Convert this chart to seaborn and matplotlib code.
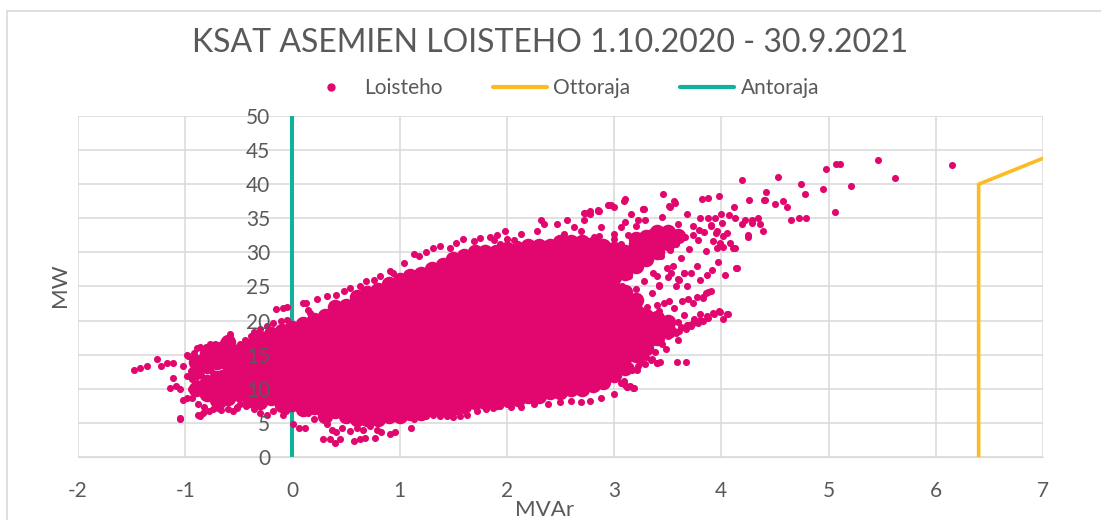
import numpy as np
import pandas as pd
import matplotlib
matplotlib.use("Agg")
import matplotlib.pyplot as plt
import matplotlib.transforms as mtransforms
from matplotlib.lines import Line2D
from matplotlib.patches import Rectangle
import seaborn as sns

# Colours (Excel style)
MAGENTA = '#E2076F'
ORANGE = '#FDBA21'
TEAL = '#10B29B'
GRID = '#D9D9D9'
TEXT = '#595959'

# ---- Loisteho (MVAr, MW) ----
# dense core, one list of MW values per MVAr column
core_mvar = [-0.9, -0.8, -0.7, -0.6,
             -0.5, -0.4, -0.3, -0.2, -0.1, 0.0, 0.1, 0.2, 0.3, 0.4, 0.5, 0.6, 0.7, 0.8, 0.9,
             1.0, 1.1, 1.2, 1.3, 1.4, 1.5, 1.6, 1.7, 1.8, 1.9, 2.0, 2.1, 2.2, 2.3, 2.4, 2.5,
             2.6, 2.7, 2.8, 2.9, 3.0, 3.1, 3.2, 3.3, 3.4, 3.5, 3.6]
core_mw = [
    [10.0, 12.4, 14.0],
    [9.2, 11.0, 13.4, 15.2],
    [8.4, 10.0, 11.6, 14.0, 15.8],
    [8.6, 10.4, 12.0, 13.6, 15.2, 16.8],
    [9.2, 10.8, 12.4, 14.0, 15.6],
    [8.3, 9.9, 11.5, 13.1, 14.7, 16.3],
    [8.0, 9.6, 11.2, 12.8, 14.4, 16.0, 17.4],
    [8.6, 10.2, 11.8, 13.4, 15.0, 16.6, 18.0],
    [7.6, 9.2, 10.8, 12.4, 14.0, 15.6, 17.2, 18.5],
    [7.7, 9.3, 10.9, 12.5, 14.1, 15.7, 17.3, 18.9],
    [7.0, 8.6, 10.2, 11.8, 13.4, 15.0, 16.6, 18.2, 19.5],
    [7.3, 8.9, 10.5, 12.1, 13.7, 15.3, 16.9, 18.5, 20.1],
    [6.0, 7.6, 9.2, 10.8, 12.4, 14.0, 15.6, 17.2, 18.8, 20.6],
    [6.8, 8.4, 10.0, 11.6, 13.2, 14.8, 16.4, 18.0, 19.6, 21.2, 22.0],
    [6.0, 7.6, 9.2, 10.8, 12.4, 14.0, 15.6, 17.2, 18.8, 20.4, 22.2],
    [5.5, 6.9, 8.5, 10.1, 11.7, 13.3, 14.9, 16.5, 18.1, 19.7, 21.3, 22.9, 23.5],
    [5.5, 7.2, 8.8, 10.4, 12.0, 13.6, 15.2, 16.8, 18.4, 20.0, 21.6, 23.2, 24.0],
    [5.6, 6.9, 8.5, 10.1, 11.7, 13.3, 14.9, 16.5, 18.1, 19.7, 21.3, 22.9, 24.5],
    [6.0, 7.6, 9.2, 10.8, 12.4, 14.0, 15.6, 17.2, 18.8, 20.4, 22.0, 23.6, 25.4],
    [6.0, 7.4, 9.0, 10.6, 12.2, 13.8, 15.4, 17.0, 18.6, 20.2, 21.8, 23.4, 25.0, 26.0],
    [6.5, 8.2, 9.8, 11.4, 13.0, 14.6, 16.2, 17.8, 19.4, 21.0, 22.6, 24.2, 25.8, 26.5],
    [6.5, 7.6, 9.2, 10.8, 12.4, 14.0, 15.6, 17.2, 18.8, 20.4, 22.0, 23.6, 25.2, 26.8],
    [7.0, 8.4, 10.0, 11.6, 13.2, 14.8, 16.4, 18.0, 19.6, 21.2, 22.8, 24.4, 26.0, 27.6],
    [7.0, 8.8, 10.4, 12.0, 13.6, 15.2, 16.8, 18.4, 20.0, 21.6, 23.2, 24.8, 26.4, 28.2],
    [7.2, 8.6, 10.2, 11.8, 13.4, 15.0, 16.6, 18.2, 19.8, 21.4, 23.0, 24.6, 26.2, 27.8, 29.0],
    [7.5, 9.0, 10.6, 12.2, 13.8, 15.4, 17.0, 18.6, 20.2, 21.8, 23.4, 25.0, 26.6, 28.2, 29.5],
    [8.0, 9.4, 11.0, 12.6, 14.2, 15.8, 17.4, 19.0, 20.6, 22.2, 23.8, 25.4, 27.0, 28.6, 30.0],
    [8.0, 9.8, 11.4, 13.0, 14.6, 16.2, 17.8, 19.4, 21.0, 22.6, 24.2, 25.8, 27.4, 29.0, 30.0],
    [8.0, 9.4, 11.0, 12.6, 14.2, 15.8, 17.4, 19.0, 20.6, 22.2, 23.8, 25.4, 27.0, 28.6, 30.0],
    [8.5, 9.8, 11.4, 13.0, 14.6, 16.2, 17.8, 19.4, 21.0, 22.6, 24.2, 25.8, 27.4, 29.0, 30.5],
    [8.5, 10.2, 11.8, 13.4, 15.0, 16.6, 18.2, 19.8, 21.4, 23.0, 24.6, 26.2, 27.8, 29.4, 30.5],
    [9.0, 10.4, 12.0, 13.6, 15.2, 16.8, 18.4, 20.0, 21.6, 23.2, 24.8, 26.4, 28.0, 29.6, 31.0],
    [9.0, 10.8, 12.4, 14.0, 15.6, 17.2, 18.8, 20.4, 22.0, 23.6, 25.2, 26.8, 28.4, 30.0, 31.0],
    [9.5, 11.0, 12.6, 14.2, 15.8, 17.4, 19.0, 20.6, 22.2, 23.8, 25.4, 27.0, 28.6, 30.2, 31.0],
    [9.5, 11.2, 12.8, 14.4, 16.0, 17.6, 19.2, 20.8, 22.4, 24.0, 25.6, 27.2, 28.8, 30.4, 31.5],
    [10.0, 11.4, 13.0, 14.6, 16.2, 17.8, 19.4, 21.0, 22.6, 24.2, 25.8, 27.4, 29.0, 30.6, 31.5],
    [10.0, 11.8, 13.4, 15.0, 16.6, 18.2, 19.8, 21.4, 23.0, 24.6, 26.2, 27.8, 29.4, 31.0, 31.5],
    [10.5, 12.0, 13.6, 15.2, 16.8, 18.4, 20.0, 21.6, 23.2, 24.8, 26.4, 28.0, 29.6, 31.2],
    [11.0, 12.4, 14.0, 15.6, 17.2, 18.8, 20.4, 22.0, 23.6, 25.2, 26.8, 28.4, 30.0, 31.0],
    [12.0, 13.6, 15.2, 16.8, 18.4, 20.0, 21.6, 23.2, 24.8, 26.4, 28.0, 29.6, 30.5],
    [13.0, 14.6, 16.2, 17.8, 19.4, 21.0, 22.6, 24.2, 27.0, 28.6, 30.0],
    [15.0, 16.6, 18.2, 19.8, 21.4, 23.0, 28.0, 29.6, 31.2, 32.0],
    [16.0, 17.6, 19.2, 20.6, 29.0, 30.6, 32.2],
    [17.5, 19.0, 20.4, 30.0, 31.6, 33.0],
    [18.5, 19.8, 31.4, 33.0],
    [32.4],
]

# left tail (negative MVAr)
tail_mvar = [-1.48, -1.42, -1.36, -1.26, -1.23, -1.17, -1.11, -1.05, -1.11, -1.09, -1.05, -1.14, -1.02, -0.98, -0.94, -1.02,
             -0.97, -0.92, -0.89, -0.86, -0.81, -0.77, -0.72,
             -0.98, -0.94, -0.89, -0.86, -0.81,
             -0.92, -0.86, -0.80, -0.74,
             -0.88, -0.83, -0.78, -0.74, -0.69, -0.66,
             -0.84, -0.77, -0.70, -0.64, -0.58,
             -0.60, -0.55, -0.52, -0.49,
             -0.67, -0.63, -0.58, -0.55, -0.49, -0.44, -0.39, -0.35, -0.30,
             -0.58,
             -0.67, -0.61, -0.55, -0.49, -0.67, -0.74,
             -0.24, -0.18, -0.11, -0.05,
             -0.15, -0.09, -0.05,
             -0.43, -0.36, -0.30, -0.24, -0.18, -0.09, -0.06,
             -0.95, -0.90, -0.85, -0.80, -0.75, -0.70, -0.65, -0.60, -0.95, -0.90, -0.80, -0.75, -0.70,
             -0.65, -0.60, -0.55, -0.60, -0.55, -0.52, -0.60, -0.70, -0.75, -0.85, -0.88, -0.82,
             -1.05, -0.86, -0.67, -0.52, -0.98, -0.58, -0.36]
tail_mw = [12.7, 13.1, 13.3, 14.4, 13.3, 13.8, 13.8, 5.5, 11.6, 10.4, 9.9, 10.1, 8.4, 8.7, 8.7, 13.3,
           14.8, 15.3, 16.0, 16.2, 16.2, 16.5, 16.5,
           11.9, 11.4, 10.9, 10.4, 9.9,
           13.3, 12.8, 13.1, 12.3,
           6.2, 6.5, 6.7, 7.0, 7.2, 7.7,
           9.2, 9.7, 10.4, 10.9, 9.9,
           7.0, 6.7, 7.2, 7.7,
           14.3, 14.8, 15.3, 16.0, 16.5, 17.2, 17.7, 18.2, 18.7,
           17.6,
           12.3, 13.3, 11.9, 12.8, 10.9, 8.9,
           19.2, 19.7, 19.9, 20.1,
           21.7, 21.9, 22.0,
           7.5, 7.0, 6.5, 6.2, 6.7, 6.2, 6.7,
           12.6, 14.0, 14.6, 15.0, 14.2, 15.6, 16.8, 16.2, 10.0, 9.6, 8.8, 10.2, 8.4,
           9.2, 8.0, 9.0, 11.6, 10.6, 13.8, 13.0, 12.0, 11.2, 12.0, 7.8, 7.4,
           5.7, 6.0, 6.9, 7.4, 15.0, 18.1, 18.4]

# lower and upper edge of the cloud
edge_mvar = [0.01, 0.06, 0.12, 0.15, 0.20, 0.24, 0.32, 0.29, 0.35, 0.40, 0.44, 0.32, 0.37, 0.41, 0.46,
             0.51, 0.54, 0.57, 0.63, 0.68, 0.77, 0.60, 0.66, 0.72, 0.79, 0.83, 0.91, 0.96, 1.11,
             1.13, 1.19, 1.25, 1.31, 1.38, 1.44, 1.50, 1.56, 1.63, 1.72, 1.81, 1.87, 1.94, 2.0,
             2.04, 2.13, 2.25, 2.38, 2.50, 2.60, 2.69, 2.78, 2.88, 3.0,
             3.16, 3.25, 3.31, 3.12, 3.22, 3.31, 3.25, 3.16, 3.09, 3.12,
             0.13, 0.15, 0.23, 0.32, 0.41, 0.48, 0.54, 0.63, 0.69, 0.76, 0.82, 0.91, 0.94, 1.04,
             1.13, 1.18, 1.25, 1.31, 1.38, 1.47, 1.53, 1.59, 1.69, 1.75, 1.84, 1.91, 1.98, 0.10, 0.16,
             2.97, 3.09, 3.27, 3.22, 3.16, 2.78, 2.85, 2.72, 2.63, 2.53, 2.44, 2.35, 2.32, 2.28,
             2.13, 2.07, 2.00, 1.94, 1.88, 2.47, 2.56, 2.69, 2.81, 2.88, 3.0, 3.06,
             2.05, 2.15, 2.25, 2.35, 2.45, 2.5, 2.3, 2.4, 2.55, 2.2, 2.1, 2.6, 2.62, 2.66, 2.7,
             2.72, 2.75, 2.78, 2.8, 2.83, 2.86, 2.88, 2.9, 2.93, 2.95, 2.98]
edge_mw = [4.8, 4.3, 4.3, 6.5, 5.5, 6.7, 6.2, 2.6, 2.6, 2.1, 2.6, 4.8, 4.0, 3.6, 4.3,
           5.5, 3.8, 2.3, 2.6, 2.8, 2.8, 4.3, 4.0, 4.5, 4.0, 3.6, 3.3, 3.6, 4.3,
           5.5, 5.8, 6.0, 6.2, 6.0, 6.0, 5.8, 6.0, 6.2, 6.7, 7.0, 7.2, 7.5, 7.7,
           7.3, 7.3, 7.7, 7.7, 8.0, 8.2, 8.0, 8.2, 8.7, 9.2,
           22.9, 21.5, 22.0, 18.0, 16.1, 17.1, 14.1, 13.1, 11.2, 10.2,
           22.6, 21.6, 23.1, 23.6, 23.8, 24.3, 24.8, 25.0, 25.8, 26.0, 26.5, 27.2, 27.0, 28.4,
           29.7, 29.4, 30.1, 30.6, 30.9, 30.6, 31.4, 31.9, 31.6, 32.1, 32.3, 32.6, 33.1, 22.6, 21.1,
           36.9, 37.6, 36.4, 34.7, 35.7, 35.7, 36.2, 34.7, 33.7, 32.7, 30.8, 34.2, 34.7, 33.2,
           32.7, 31.8, 32.0, 31.3, 31.8, 34.2, 34.7, 33.2, 32.3, 33.7, 32.7, 33.7,
           30.2, 29.8, 29.2, 28.6, 28.4, 29.8, 31.0, 30.6, 31.6, 31.4, 31.2, 27.2, 29.0, 30.6, 26.4,
           28.2, 31.6, 25.6, 27.8, 29.8, 32.4, 24.8, 26.8, 29.0, 31.0, 24.0]

# upper right branch
upper_mvar = [3.0, 3.0, 3.0, 3.0, 3.0, 3.07, 3.08, 3.06, 3.1, 3.14, 3.15, 3.13, 3.2, 3.21, 3.22, 3.2,
              3.28, 3.3, 3.27, 3.29, 3.35, 3.36, 3.37, 3.34, 3.42, 3.44, 3.41, 3.45, 3.5, 3.52, 3.5, 3.55,
              3.58, 3.6, 3.62, 3.66, 3.68, 3.7, 3.74, 3.78, 3.8, 3.84, 3.86, 3.9, 3.92, 3.96, 4.0, 4.02,
              3.46, 3.56, 3.51, 3.10, 2.94, 3.0, 3.28, 2.86, 2.78, 2.73, 4.15, 4.03, 3.97, 4.25, 4.22,
              4.29, 4.34, 3.88, 3.94, 4.01, 3.90, 3.95, 3.99, 4.08, 4.11, 3.79, 3.74, 3.98, 3.88, 3.82,
              4.12, 4.07, 4.26, 4.40, 4.41, 4.42, 4.58, 4.50, 4.61, 4.13, 4.29, 4.36, 4.19, 4.25, 4.39,
              4.05, 4.13, 4.02, 3.96, 4.14, 3.87, 3.91, 3.80, 3.68, 3.65, 3.72, 3.77, 3.60, 3.53, 3.49,
              3.40, 3.42, 3.57, 3.52, 3.27, 2.95, 2.85, 2.77, 2.72]
upper_mw = [26.0, 27.5, 29.0, 30.5, 32.0, 25.0, 28.2, 31.2, 34.4, 26.5, 29.6, 32.5, 24.6, 27.6, 31.0, 33.8,
            25.8, 28.8, 30.2, 34.8, 24.0, 27.0, 31.8, 33.0, 25.2, 29.5, 32.6, 35.2, 26.4, 30.4, 33.6, 28.0,
            31.2, 34.2, 29.2, 32.2, 35.6, 30.5, 33.8, 31.8, 35.0, 33.0, 30.2, 34.0, 31.6, 33.2, 35.6, 32.4,
            38.6, 37.5, 36.8, 37.8, 37.0, 36.7, 36.4, 36.1, 36.0, 35.8, 27.7, 26.7, 28.6, 32.6, 34.8,
            34.3, 35.0, 35.0, 35.0, 34.3, 33.8, 32.8, 31.4, 31.4, 30.6, 33.3, 32.6, 38.3, 38.0, 37.9,
            36.6, 35.5, 37.7, 37.7, 37.7, 38.8, 37.6, 37.1, 36.6, 35.0, 34.7, 34.2, 34.2, 32.3, 33.2,
            32.8, 30.6, 30.8, 30.6, 27.7, 26.7, 27.4, 26.0, 25.0, 27.0, 27.0, 28.0, 26.1, 27.0, 27.7,
            26.5, 25.0, 37.3, 36.7, 36.4, 36.9, 36.1, 35.8, 35.8]

# lower right branch
lower_mvar = [4.06, 4.02, 3.98, 3.92, 3.88, 3.83, 3.78, 3.72, 3.67, 3.61, 3.58, 3.86, 3.90, 3.83,
              3.74, 3.69, 3.63, 3.67, 3.59, 3.40, 3.35, 3.29, 3.22, 3.17, 3.13, 3.08, 3.19, 3.15, 3.10,
              3.47, 3.51, 3.40, 3.58, 3.61, 3.65, 4.05, 3.99, 3.93, 3.87, 3.80, 3.74, 3.68, 3.62,
              3.43, 3.34, 3.24, 3.15, 3.21, 3.18, 3.12, 3.06, 3.88, 3.83, 3.77,
              3.45, 3.5, 3.55, 3.6, 3.65, 3.7, 3.75, 3.8, 3.45, 3.5, 3.38, 3.3, 3.42, 3.56, 3.6,
              3.4, 3.48, 3.36, 3.28, 3.52, 3.25, 3.33]
lower_mw = [21.0, 20.3, 21.4, 21.1, 20.4, 19.9, 19.7, 19.2, 18.8, 18.5, 18.2, 24.0, 24.3, 23.3,
            22.6, 23.1, 22.8, 14.0, 14.0, 13.8, 14.3, 13.6, 13.3, 12.8, 13.3, 12.8, 10.1, 10.4, 10.6,
            22.6, 22.8, 22.3, 25.0, 26.0, 27.0, 21.0, 21.2, 21.0, 20.6, 20.1, 19.6, 19.4, 19.1,
            14.0, 14.2, 13.8, 13.3, 12.8, 10.1, 10.3, 10.8, 24.2, 23.5, 23.5,
            19.2, 20.4, 18.6, 19.8, 20.8, 19.4, 20.2, 21.0, 16.6, 17.8, 15.4, 14.6, 21.4, 21.8, 17.2,
            13.8, 15.8, 16.8, 15.6, 19.0, 19.4, 20.8]

# isolated high points
outlier_mvar = [4.19, 4.53, 4.74, 4.78, 4.95, 4.98, 5.07, 5.11, 5.06, 5.21, 5.46, 5.62, 6.15, 4.65, 4.72, 4.79]
outlier_mw = [40.6, 41.0, 40.1, 38.6, 39.3, 42.2, 42.9, 42.9, 35.9, 39.7, 43.5, 40.9, 42.8, 34.8, 35.0, 35.0]

# limit lines
otto_mvar = [6.4, 6.4, 7.0]
otto_mw = [0, 40, 43.8]
anto_mvar = [0, 0]
anto_mw = [0, 50]

# build tables
core = pd.DataFrame({'MVAr': [x for x, col in zip(core_mvar, core_mw) for _ in col],
                     'MW': [y for col in core_mw for y in col]})
fringe = pd.DataFrame({'MVAr': tail_mvar + edge_mvar + upper_mvar + lower_mvar + outlier_mvar,
                       'MW': tail_mw + edge_mw + upper_mw + lower_mw + outlier_mw})

sns.set_style('white')
plt.rcParams['font.family'] = ['Lato', 'DejaVu Sans']
plt.rcParams['axes.unicode_minus'] = False

fig = plt.figure(figsize=(11.01, 5.2), dpi=100)
ax = fig.add_axes([0.0708, 0.1212, 0.8765, 0.6557])

sns.lineplot(x=otto_mvar, y=otto_mw, sort=False, estimator=None, color=ORANGE, lw=2.6, ax=ax, zorder=1)
sns.lineplot(x=anto_mvar, y=anto_mw, sort=False, estimator=None, color=TEAL, lw=2.9, ax=ax, zorder=1)
sns.scatterplot(data=core, x='MVAr', y='MW', color=MAGENTA, s=125, linewidth=0, ax=ax, zorder=2)
sns.scatterplot(data=fringe, x='MVAr', y='MW', color=MAGENTA, s=26, linewidth=0, ax=ax, zorder=2)

ax.set_xlim(-2, 7)
ax.set_ylim(0, 50)
ax.set_xticks(range(-2, 8))
ax.set_yticks(range(0, 51, 5))
for t in ax.get_xticks():
    ax.axvline(t, color=GRID, lw=1.1, zorder=0)
for t in ax.get_yticks():
    ax.axhline(t, color=GRID, lw=1.1, zorder=0)

for s in ['top', 'right', 'left']:
    ax.spines[s].set_visible(False)
ax.spines['bottom'].set_color(GRID)
ax.tick_params(axis='both', length=0, labelsize=15, labelcolor=TEXT)
ax.tick_params(axis='x', pad=17)
ax.set_xlabel('')
ax.set_ylabel('')

# the value axis crosses at MVAr = 0, labels drawn over the points like in Excel
ax.set_yticklabels([])
ylab_tr = mtransforms.offset_copy(ax.transData, fig=fig, x=-22, y=0, units='dots')
for t in ax.get_yticks():
    ax.text(0, t, f'{t:g}', transform=ylab_tr, ha='right', va='center_baseline', fontsize=15,
            color=TEXT, zorder=10, clip_on=False)

fig.text(0.5, 0.918, 'KSAT ASEMIEN LOISTEHO 1.10.2020 - 30.9.2021', ha='center', va='center',
         fontsize=23, color=TEXT)
fig.text(0.0545, 0.452, 'MW', rotation=90, ha='center', va='center', fontsize=16, color=TEXT)
fig.text(0.495, 0.02, 'MVAr', ha='center', va='center', fontsize=16, color=TEXT)

handles = [Line2D([], [], marker='o', ls='none', color=MAGENTA, markersize=5),
           Line2D([], [], color=ORANGE, lw=3),
           Line2D([], [], color=TEAL, lw=3)]
fig.legend(handles, ['Loisteho', 'Ottoraja', 'Antoraja'], loc='center', bbox_to_anchor=(0.51, 0.831),
           ncol=3, frameon=False, fontsize=15, handlelength=2.6, handletextpad=0.3, columnspacing=2.4,
           labelcolor=TEXT)

fig.patches.append(Rectangle((7 / 1101, -0.1), 1.2, 0.1 + (520 - 11) / 520, transform=fig.transFigure,
                             fill=False, edgecolor=GRID, lw=1.2))

fig.savefig('out.png', dpi=100)
